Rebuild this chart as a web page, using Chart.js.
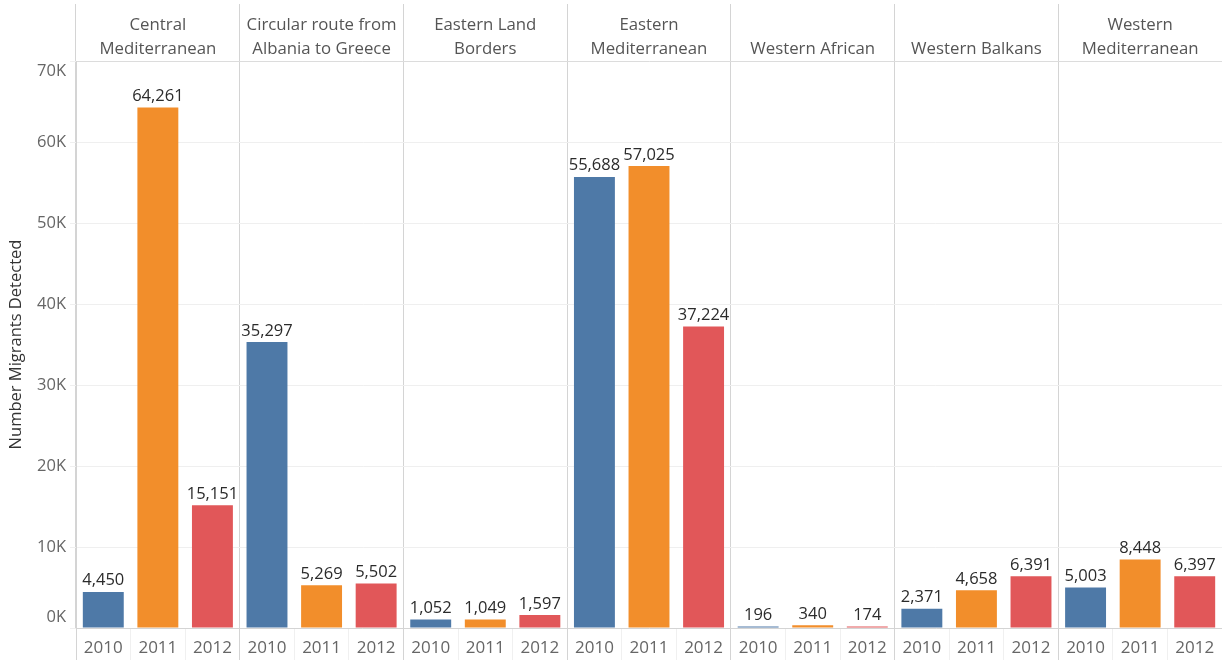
<!DOCTYPE html>
<html>
<head>
<meta charset="utf-8">
<script src="https://cdn.jsdelivr.net/npm/chart.js@4.4.1/dist/chart.umd.min.js"></script>
<style>
    body { margin: 0; background: #fff; }
    canvas { display: block; }
</style>
</head>
<body>
<canvas id="myChart" width="1222" height="660"></canvas>
<script>
const regiones = [
    ['Central', 'Mediterranean'],
    ['Circular route from', 'Albania to Greece'],
    ['Eastern Land', 'Borders'],
    ['Eastern', 'Mediterranean'],
    'Western African',
    'Western Balkans',
    ['Western', 'Mediterranean']
];
const anios = ['2010', '2011', '2012'];

const datos2010 = [4450, 35297, 1052, 55688, 196, 2371, 5003];
const datos2011 = [64261, 5269, 1049, 57025, 340, 4658, 8448];
const datos2012 = [15151, 5502, 1597, 37224, 174, 6391, 6397];

const colores = ['#4e79a7', '#f28e2b', '#e15759'];

// una barra por region y año, en orden de panel
const etiquetas = [];
const valores = [];
const coloresBarras = [];
regiones.forEach((region, i) => {
    [datos2010, datos2011, datos2012].forEach((serie, j) => {
        etiquetas.push(anios[j]);
        valores.push(serie[i]);
        coloresBarras.push(colores[j]);
    });
});

// numero encima de cada barra
const etiquetasValor = {
    id: 'etiquetasValor',
    afterDatasetsDraw(chart) {
        const ctx = chart.ctx;
        const meta = chart.getDatasetMeta(0);
        ctx.save();
        ctx.font = '16.5px "Open Sans"';
        ctx.fillStyle = '#2b2b2b';
        ctx.textAlign = 'center';
        ctx.textBaseline = 'bottom';
        meta.data.forEach((barra, i) => {
            ctx.fillText(valores[i].toLocaleString('en-US'), barra.x, barra.y - 3);
        });
        ctx.restore();
    }
};

// 70K baja y 0K sube para que no se salgan del panel
const etiquetaY = v => {
    const txt = (v / 1000) + 'K';
    if (v === 70000) return ['', txt];
    if (v === 0) return [txt, ''];
    return txt;
};

Chart.defaults.font.family = '"Open Sans", sans-serif';

const ctx = document.getElementById('myChart');
const chart = new Chart(ctx, {
    type: 'bar',
    data: {
        labels: etiquetas,
        datasets: [{
            data: valores,
            backgroundColor: coloresBarras,
            barPercentage: 0.75,
            categoryPercentage: 1,
            xAxisID: 'x',
            yAxisID: 'y'
        }]
    },
    options: {
        responsive: false,
        animation: false,
        layout: { padding: { top: 4, left: 0, right: 0, bottom: 0 } },
        plugins: {
            legend: { display: false },
            tooltip: { enabled: false }
        },
        scales: {
            x: {
                position: 'bottom',
                offset: true,
                grid: {
                    offset: true,
                    drawOnChartArea: false,
                    tickLength: 32,
                    tickColor: c => c.index % 3 === 0 ? '#d4d4d4' : '#f0f0f0'
                },
                border: { color: '#d4d4d4' },
                ticks: {
                    color: '#666',
                    font: { size: 17 },
                    padding: -22,
                    autoSkip: false,
                    maxRotation: 0
                },
                afterFit: s => { s.height = 32; }
            },
            x2: {
                type: 'category',
                position: 'top',
                labels: regiones,
                offset: true,
                grid: {
                    offset: true,
                    drawOnChartArea: true,
                    tickLength: 57,
                    color: '#d4d4d4'
                },
                border: { color: '#dcdcdc' },
                ticks: {
                    color: '#555',
                    font: { size: 16.8, lineHeight: 1.4 },
                    padding: -57,
                    autoSkip: false,
                    maxRotation: 0
                },
                afterFit: s => { s.height = 57; }
            },
            y: {
                min: 0,
                max: 70000,
                ticks: {
                    stepSize: 10000,
                    callback: etiquetaY,
                    color: '#666',
                    font: { size: 16.5, lineHeight: 1.3 },
                    padding: 4
                },
                grid: { color: '#efefef', tickLength: 6 },
                border: { color: '#d4d4d4' },
                title: {
                    display: true,
                    text: 'Number Migrants Detected',
                    color: '#333',
                    font: { size: 16.5 },
                    padding: { top: 6, bottom: 0 }
                },
                afterFit: s => { s.width = 76; }
            }
        }
    },
    plugins: [etiquetasValor]
});
</script>
</body>
</html>
